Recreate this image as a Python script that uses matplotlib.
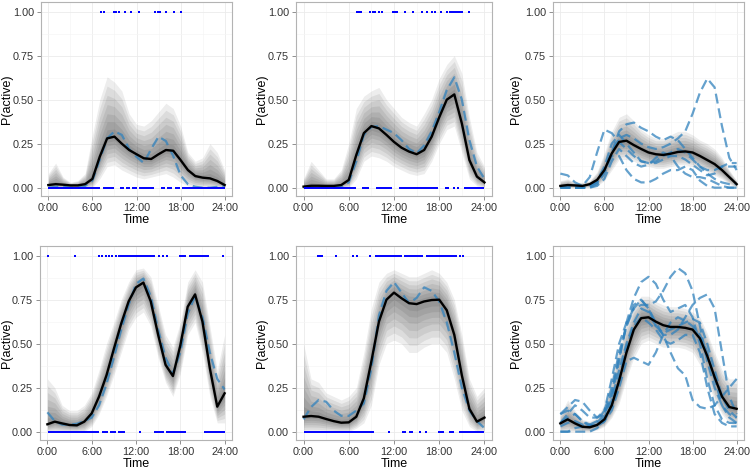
import matplotlib
matplotlib.use("Agg")
import matplotlib.pyplot as plt
import numpy as np

plt.rcParams['font.family'] = ['Liberation Sans', 'DejaVu Sans']

HOURS = list(range(25))
TICK_HOURS = [0, 6, 12, 18, 24]
TICK_LABELS = ["0:00", "6:00", "12:00", "18:00", "24:00"]
Y_TICKS = [0.0, 0.25, 0.5, 0.75, 1.0]
Y_LABELS = ["0.00", "0.25", "0.50", "0.75", "1.00"]

# panel 1 (top left)
P1_MEAN = [0.015, 0.02, 0.017, 0.013, 0.013, 0.02, 0.05, 0.176, 0.28, 0.29, 0.25, 0.214, 0.19,
           0.167, 0.163, 0.19, 0.214, 0.21, 0.157, 0.10, 0.066, 0.057, 0.053, 0.038, 0.015]
P1_DASH = [[0.0, 0.005, 0.005, 0.0, 0.0, 0.01, 0.04, 0.16, 0.28, 0.32, 0.30, 0.22, 0.175,
            0.14, 0.22, 0.29, 0.265, 0.18, 0.07, 0.02, 0.005, 0.0, 0.0, 0.005, 0.01]]
P1_LO = [0, 0, 0, 0, 0, 0, 0, 0.05, 0.12, 0.13, 0.10, 0.08, 0.06, 0.05, 0.06, 0.07, 0.08,
         0.06, 0.03, 0.01, 0, 0, 0, 0, 0]
P1_HI = [0.08, 0.14, 0.06, 0.03, 0.04, 0.08, 0.30, 0.50, 0.63, 0.60, 0.55, 0.42, 0.36, 0.35,
         0.38, 0.43, 0.48, 0.45, 0.35, 0.20, 0.15, 0.17, 0.25, 0.20, 0.10]
P1_TOP_PTS = [7.19, 7.64, 9.0, 9.24, 9.55, 10.46, 11.28, 12.28, 14.56, 14.87, 15.24, 16.0, 17.05, 18.06]
P1_TOP_SPANS = []
P1_BOT_PTS = []
P1_BOT_SPANS = [(0.0, 7.05), (7.5, 8.9), (9.7, 10.3), (10.6, 11.1), (11.4, 12.1),
                (12.4, 14.4), (15.4, 15.9), (16.1, 16.9), (17.2, 17.9), (18.2, 24.0)]

# panel 2 (top middle)
P2_MEAN = [0.006, 0.011, 0.011, 0.01, 0.01, 0.015, 0.044, 0.186, 0.31, 0.35, 0.337, 0.30, 0.26,
           0.227, 0.205, 0.19, 0.214, 0.29, 0.40, 0.50, 0.53, 0.365, 0.157, 0.063, 0.03]
P2_DASH = [[0.0, 0.005, 0.005, 0.0, 0.0, 0.005, 0.03, 0.15, 0.30, 0.345, 0.35, 0.33, 0.31,
            0.27, 0.22, 0.195, 0.24, 0.32, 0.43, 0.555, 0.627, 0.50, 0.27, 0.12, 0.05]]
P2_LO = [0, 0, 0, 0, 0, 0, 0, 0.05, 0.15, 0.18, 0.17, 0.15, 0.12, 0.10, 0.08, 0.07, 0.08,
         0.15, 0.25, 0.33, 0.35, 0.20, 0.05, 0.01, 0]
P2_HI = [0.05, 0.15, 0.10, 0.05, 0.05, 0.10, 0.25, 0.45, 0.52, 0.55, 0.57, 0.50, 0.45, 0.40,
         0.37, 0.35, 0.42, 0.50, 0.62, 0.70, 0.75, 0.65, 0.40, 0.20, 0.12]
P2_TOP_PTS = [7.05, 7.36, 7.59, 8.85, 9.17, 9.49, 10.07, 10.43, 11.88, 12.19, 12.42, 13.45,
              14.49, 15.71, 16.39, 17.06, 17.43, 18.19, 19.0, 22.0]
P2_TOP_SPANS = [(19.3, 21.1)]
P2_BOT_PTS = [18.9, 19.2, 20.0, 20.5]
P2_BOT_SPANS = [(0.0, 6.9), (7.7, 8.7), (9.6, 11.7), (12.6, 17.8), (21.3, 24.0)]

# panel 3 (top right)
P3_MEAN = [0.01, 0.015, 0.013, 0.01, 0.02, 0.044, 0.10, 0.195, 0.26, 0.267, 0.242, 0.22, 0.20,
           0.19, 0.186, 0.193, 0.203, 0.206, 0.20, 0.18, 0.157, 0.134, 0.10, 0.06, 0.02]
P3_DASH = [
    [0.0, 0.0, 0.0, 0.0, 0.01, 0.03, 0.10, 0.20, 0.28, 0.30, 0.28, 0.25, 0.23, 0.22, 0.23,
     0.25, 0.28, 0.32, 0.42, 0.54, 0.62, 0.57, 0.35, 0.17, 0.10],
    [0.08, 0.07, 0.03, 0.01, 0.06, 0.20, 0.33, 0.31, 0.26, 0.22, 0.18, 0.15, 0.14, 0.14, 0.16,
     0.18, 0.18, 0.16, 0.13, 0.10, 0.07, 0.08, 0.12, 0.14, 0.14],
    [0.0, 0.0, 0.0, 0.0, 0.0, 0.02, 0.08, 0.20, 0.32, 0.36, 0.37, 0.34, 0.32, 0.29, 0.27,
     0.29, 0.27, 0.22, 0.17, 0.12, 0.08, 0.05, 0.03, 0.02, 0.02],
    [0.0, 0.0, 0.0, 0.0, 0.01, 0.03, 0.10, 0.18, 0.18, 0.10, 0.05, 0.03, 0.03, 0.05, 0.08,
     0.10, 0.10, 0.12, 0.10, 0.04, 0.01, 0.0, 0.0, 0.0, 0.0],
    [0.01, 0.0, 0.0, 0.0, 0.01, 0.04, 0.12, 0.25, 0.30, 0.25, 0.20, 0.15, 0.14, 0.15, 0.18,
     0.20, 0.22, 0.20, 0.16, 0.12, 0.10, 0.10, 0.12, 0.12, 0.12],
    [0.0, 0.0, 0.0, 0.0, 0.0, 0.01, 0.05, 0.15, 0.22, 0.18, 0.14, 0.12, 0.13, 0.17, 0.20,
     0.18, 0.12, 0.08, 0.06, 0.06, 0.05, 0.03, 0.01, 0.0, 0.0],
]
P3_LO = [0, 0, 0, 0, 0, 0.01, 0.04, 0.10, 0.16, 0.16, 0.15, 0.13, 0.12, 0.11, 0.11, 0.12,
         0.13, 0.13, 0.12, 0.11, 0.09, 0.07, 0.05, 0.02, 0]
P3_HI = [0.04, 0.05, 0.03, 0.03, 0.04, 0.09, 0.20, 0.32, 0.40, 0.42, 0.38, 0.33, 0.30, 0.28,
         0.28, 0.30, 0.32, 0.32, 0.30, 0.27, 0.25, 0.22, 0.17, 0.10, 0.04]

# panel 4 (bottom left)
P4_MEAN = [0.042, 0.057, 0.047, 0.038, 0.036, 0.057, 0.104, 0.20, 0.32, 0.47, 0.615, 0.74,
           0.82, 0.847, 0.74, 0.55, 0.38, 0.316, 0.49, 0.71, 0.78, 0.625, 0.36, 0.142, 0.218]
P4_DASH = [[0.11, 0.06, 0.04, 0.04, 0.045, 0.06, 0.08, 0.15, 0.27, 0.42, 0.58, 0.72, 0.84,
            0.87, 0.77, 0.58, 0.42, 0.33, 0.45, 0.67, 0.77, 0.65, 0.45, 0.30, 0.24]]
P4_LO = [0, 0, 0, 0, 0, 0, 0.03, 0.10, 0.20, 0.32, 0.45, 0.58, 0.65, 0.68, 0.60, 0.42, 0.28,
         0.20, 0.33, 0.55, 0.62, 0.45, 0.20, 0.05, 0.05]
P4_HI = [0.30, 0.25, 0.15, 0.12, 0.12, 0.15, 0.22, 0.35, 0.50, 0.62, 0.75, 0.85, 0.92, 0.93,
         0.88, 0.72, 0.55, 0.48, 0.62, 0.85, 0.92, 0.85, 0.60, 0.35, 0.55]
P4_TOP_PTS = [0.1, 3.8, 7.0, 7.4, 7.9, 8.4, 8.8, 9.3, 15.1, 15.6, 16.2, 23.8]
P4_TOP_SPANS = [(9.6, 14.6), (17.8, 18.8), (19.2, 21.9)]
P4_BOT_PTS = [12.5]
P4_BOT_SPANS = [(0.1, 7.0), (7.4, 8.2), (8.5, 9.3), (9.6, 10.5), (14.5, 15.8), (16.0, 18.8),
                (21.2, 24.0)]

# panel 5 (bottom middle)
P5_MEAN = [0.085, 0.089, 0.085, 0.072, 0.06, 0.051, 0.053, 0.085, 0.19, 0.40, 0.625, 0.75,
           0.79, 0.758, 0.73, 0.725, 0.74, 0.748, 0.75, 0.69, 0.55, 0.32, 0.13, 0.057, 0.08]
P5_DASH = [[0.07, 0.14, 0.18, 0.17, 0.12, 0.09, 0.09, 0.12, 0.16, 0.36, 0.66, 0.80, 0.85,
            0.79, 0.73, 0.76, 0.82, 0.80, 0.74, 0.62, 0.45, 0.25, 0.12, 0.06, 0.02]]
P5_LO = [0, 0, 0, 0, 0, 0, 0, 0.02, 0.05, 0.15, 0.38, 0.50, 0.52, 0.50, 0.45, 0.45, 0.48,
         0.50, 0.50, 0.45, 0.30, 0.12, 0.03, 0, 0]
P5_HI = [0.50, 0.30, 0.28, 0.22, 0.20, 0.18, 0.20, 0.25, 0.45, 0.70, 0.85, 0.90, 0.92, 0.90,
         0.88, 0.88, 0.90, 0.92, 0.90, 0.85, 0.75, 0.55, 0.30, 0.20, 0.25]
P5_TOP_PTS = [1.9, 2.2, 2.5, 4.3, 6.5, 7.1, 8.8, 20.7, 21.1]
P5_TOP_SPANS = [(9.5, 13.0), (13.3, 15.9), (16.2, 20.3)]
P5_BOT_PTS = [11.4, 15.4, 16.3]
P5_BOT_SPANS = [(0.0, 9.3), (13.0, 13.6), (14.0, 14.5), (17.8, 18.6), (19.3, 20.0), (20.6, 23.9)]

# panel 6 (bottom right)
P6_MEAN = [0.047, 0.07, 0.047, 0.028, 0.025, 0.038, 0.07, 0.15, 0.29, 0.45, 0.58, 0.645,
           0.65, 0.625, 0.605, 0.595, 0.595, 0.59, 0.58, 0.53, 0.43, 0.31, 0.20, 0.14, 0.13]
P6_DASH = [
    [0.0, 0.0, 0.02, 0.03, 0.04, 0.06, 0.12, 0.30, 0.50, 0.62, 0.70, 0.72, 0.72, 0.74, 0.80,
     0.88, 0.93, 0.90, 0.80, 0.60, 0.40, 0.25, 0.15, 0.10, 0.08],
    [0.05, 0.08, 0.10, 0.06, 0.03, 0.05, 0.10, 0.20, 0.40, 0.62, 0.76, 0.85, 0.88, 0.84, 0.75,
     0.68, 0.70, 0.72, 0.65, 0.50, 0.30, 0.15, 0.07, 0.05, 0.05],
    [0.03, 0.05, 0.06, 0.04, 0.03, 0.04, 0.08, 0.18, 0.35, 0.50, 0.62, 0.70, 0.68, 0.60, 0.55,
     0.55, 0.58, 0.65, 0.72, 0.76, 0.78, 0.70, 0.45, 0.20, 0.10],
    [0.10, 0.12, 0.10, 0.06, 0.04, 0.03, 0.06, 0.12, 0.25, 0.40, 0.42, 0.40, 0.38, 0.45, 0.55,
     0.62, 0.65, 0.63, 0.60, 0.55, 0.45, 0.30, 0.15, 0.08, 0.05],
    [0.05, 0.10, 0.15, 0.12, 0.08, 0.08, 0.12, 0.25, 0.45, 0.60, 0.70, 0.75, 0.70, 0.62, 0.55,
     0.45, 0.36, 0.32, 0.18, 0.14, 0.13, 0.15, 0.20, 0.25, 0.30],
    [0.10, 0.14, 0.18, 0.17, 0.12, 0.08, 0.10, 0.22, 0.42, 0.60, 0.72, 0.75, 0.70, 0.60, 0.56,
     0.58, 0.60, 0.62, 0.64, 0.62, 0.50, 0.35, 0.20, 0.12, 0.08],
    [0.0, 0.0, 0.0, 0.0, 0.0, 0.02, 0.06, 0.15, 0.30, 0.48, 0.60, 0.65, 0.62, 0.58, 0.52,
     0.50, 0.52, 0.55, 0.55, 0.45, 0.25, 0.10, 0.05, 0.03, 0.03],
]
P6_LO = [0, 0, 0, 0, 0, 0.01, 0.03, 0.08, 0.16, 0.30, 0.42, 0.50, 0.52, 0.50, 0.48, 0.48,
         0.48, 0.47, 0.45, 0.38, 0.28, 0.18, 0.10, 0.05, 0.03]
P6_HI = [0.10, 0.18, 0.12, 0.07, 0.06, 0.08, 0.16, 0.32, 0.48, 0.62, 0.72, 0.77, 0.77, 0.74,
         0.72, 0.71, 0.71, 0.70, 0.68, 0.65, 0.56, 0.45, 0.35, 0.30, 0.30]

# axes boxes in pixels: left, top, right, bottom
BOXES = [(41, 2, 232, 195.6), (296, 2, 492, 195.6), (553, 2, 744, 195.6),
         (40, 246, 232, 439.6), (296, 246, 492, 439.6), (553, 246, 744, 439.6)]
# x pixel of the centre of the "P(active)" label
YLABEL_X = [7, 262, 516, 7, 262, 516]

panels = [
    dict(mean=P1_MEAN, dash=P1_DASH, lo=P1_LO, hi=P1_HI, top=P1_TOP_PTS, top_spans=P1_TOP_SPANS,
         bot=P1_BOT_PTS, bot_spans=P1_BOT_SPANS),
    dict(mean=P2_MEAN, dash=P2_DASH, lo=P2_LO, hi=P2_HI, top=P2_TOP_PTS, top_spans=P2_TOP_SPANS,
         bot=P2_BOT_PTS, bot_spans=P2_BOT_SPANS),
    dict(mean=P3_MEAN, dash=P3_DASH, lo=P3_LO, hi=P3_HI),
    dict(mean=P4_MEAN, dash=P4_DASH, lo=P4_LO, hi=P4_HI, top=P4_TOP_PTS, top_spans=P4_TOP_SPANS,
         bot=P4_BOT_PTS, bot_spans=P4_BOT_SPANS),
    dict(mean=P5_MEAN, dash=P5_DASH, lo=P5_LO, hi=P5_HI, top=P5_TOP_PTS, top_spans=P5_TOP_SPANS,
         bot=P5_BOT_PTS, bot_spans=P5_BOT_SPANS),
    dict(mean=P6_MEAN, dash=P6_DASH, lo=P6_LO, hi=P6_HI),
]

W, H = 750, 469
fig = plt.figure(figsize=(W / 100, H / 100), dpi=100)
fig.patch.set_facecolor("white")

RUG = "#0000ff"

for box, lx, p in zip(BOXES, YLABEL_X, panels):
    l, t, r, b = box
    ax = fig.add_axes([l / W, 1 - b / H, (r - l) / W, (b - t) / H])
    ax.set_xlim(-1, 25)
    ax.set_ylim(-0.045, 1.055)

    # grid, ggplot-like
    ax.set_xticks([3, 9, 15, 21], minor=True)
    ax.set_yticks([0.125, 0.375, 0.625, 0.875], minor=True)
    ax.grid(True, which="major", color="#ebebeb", linewidth=0.6)
    ax.grid(True, which="minor", color="#f5f5f5", linewidth=0.5)
    ax.set_axisbelow(True)

    x = np.array(HOURS, dtype=float)
    mean = np.array(p["mean"])
    lo = np.array(p["lo"])
    hi = np.array(p["hi"])
    # posterior spaghetti shown as stacked translucent bands (denser near the mean)
    for k in [1.0, 0.85, 0.7, 0.55, 0.4, 0.27, 0.14]:
        ax.fill_between(x, mean - k * (mean - lo), mean + k * (hi - mean),
                        color="black", alpha=0.07, linewidth=0, zorder=2)

    for d in p["dash"]:
        ax.plot(x, d, color="#3182bd", alpha=0.75, linewidth=1.6, dashes=(4.5, 2.2), zorder=3)
    ax.plot(x, mean, color="black", linewidth=1.7, zorder=4)

    # observed activity (rug at 0 and 1)
    for pts, spans, yv in [(p.get("top", []), p.get("top_spans", []), 1.0),
                           (p.get("bot", []), p.get("bot_spans", []), 0.0)]:
        if pts:
            ax.scatter(pts, [yv] * len(pts), s=4, marker="s", color=RUG, linewidths=0, zorder=5)
        for s0, s1 in spans:
            ax.hlines(yv, s0, s1, color=RUG, linewidth=1.4, zorder=5)

    ax.set_xticks(TICK_HOURS)
    ax.set_xticklabels(TICK_LABELS)
    ax.set_yticks(Y_TICKS)
    ax.set_yticklabels(Y_LABELS)
    ax.tick_params(which="major", length=3, width=0.6, color="#7f7f7f", pad=2,
                   labelsize=7.8, labelcolor="#333333")
    ax.tick_params(which="minor", length=0)
    for sp in ax.spines.values():
        sp.set_color("#b3b3b3")
        sp.set_linewidth(0.8)
    ax.set_xlabel("Time", fontsize=9, labelpad=1)
    ax.set_ylabel("P(active)", fontsize=9, va="center")
    ax.yaxis.set_label_coords((lx - l) / (r - l), 0.5)

fig.savefig("out.png", dpi=100)
